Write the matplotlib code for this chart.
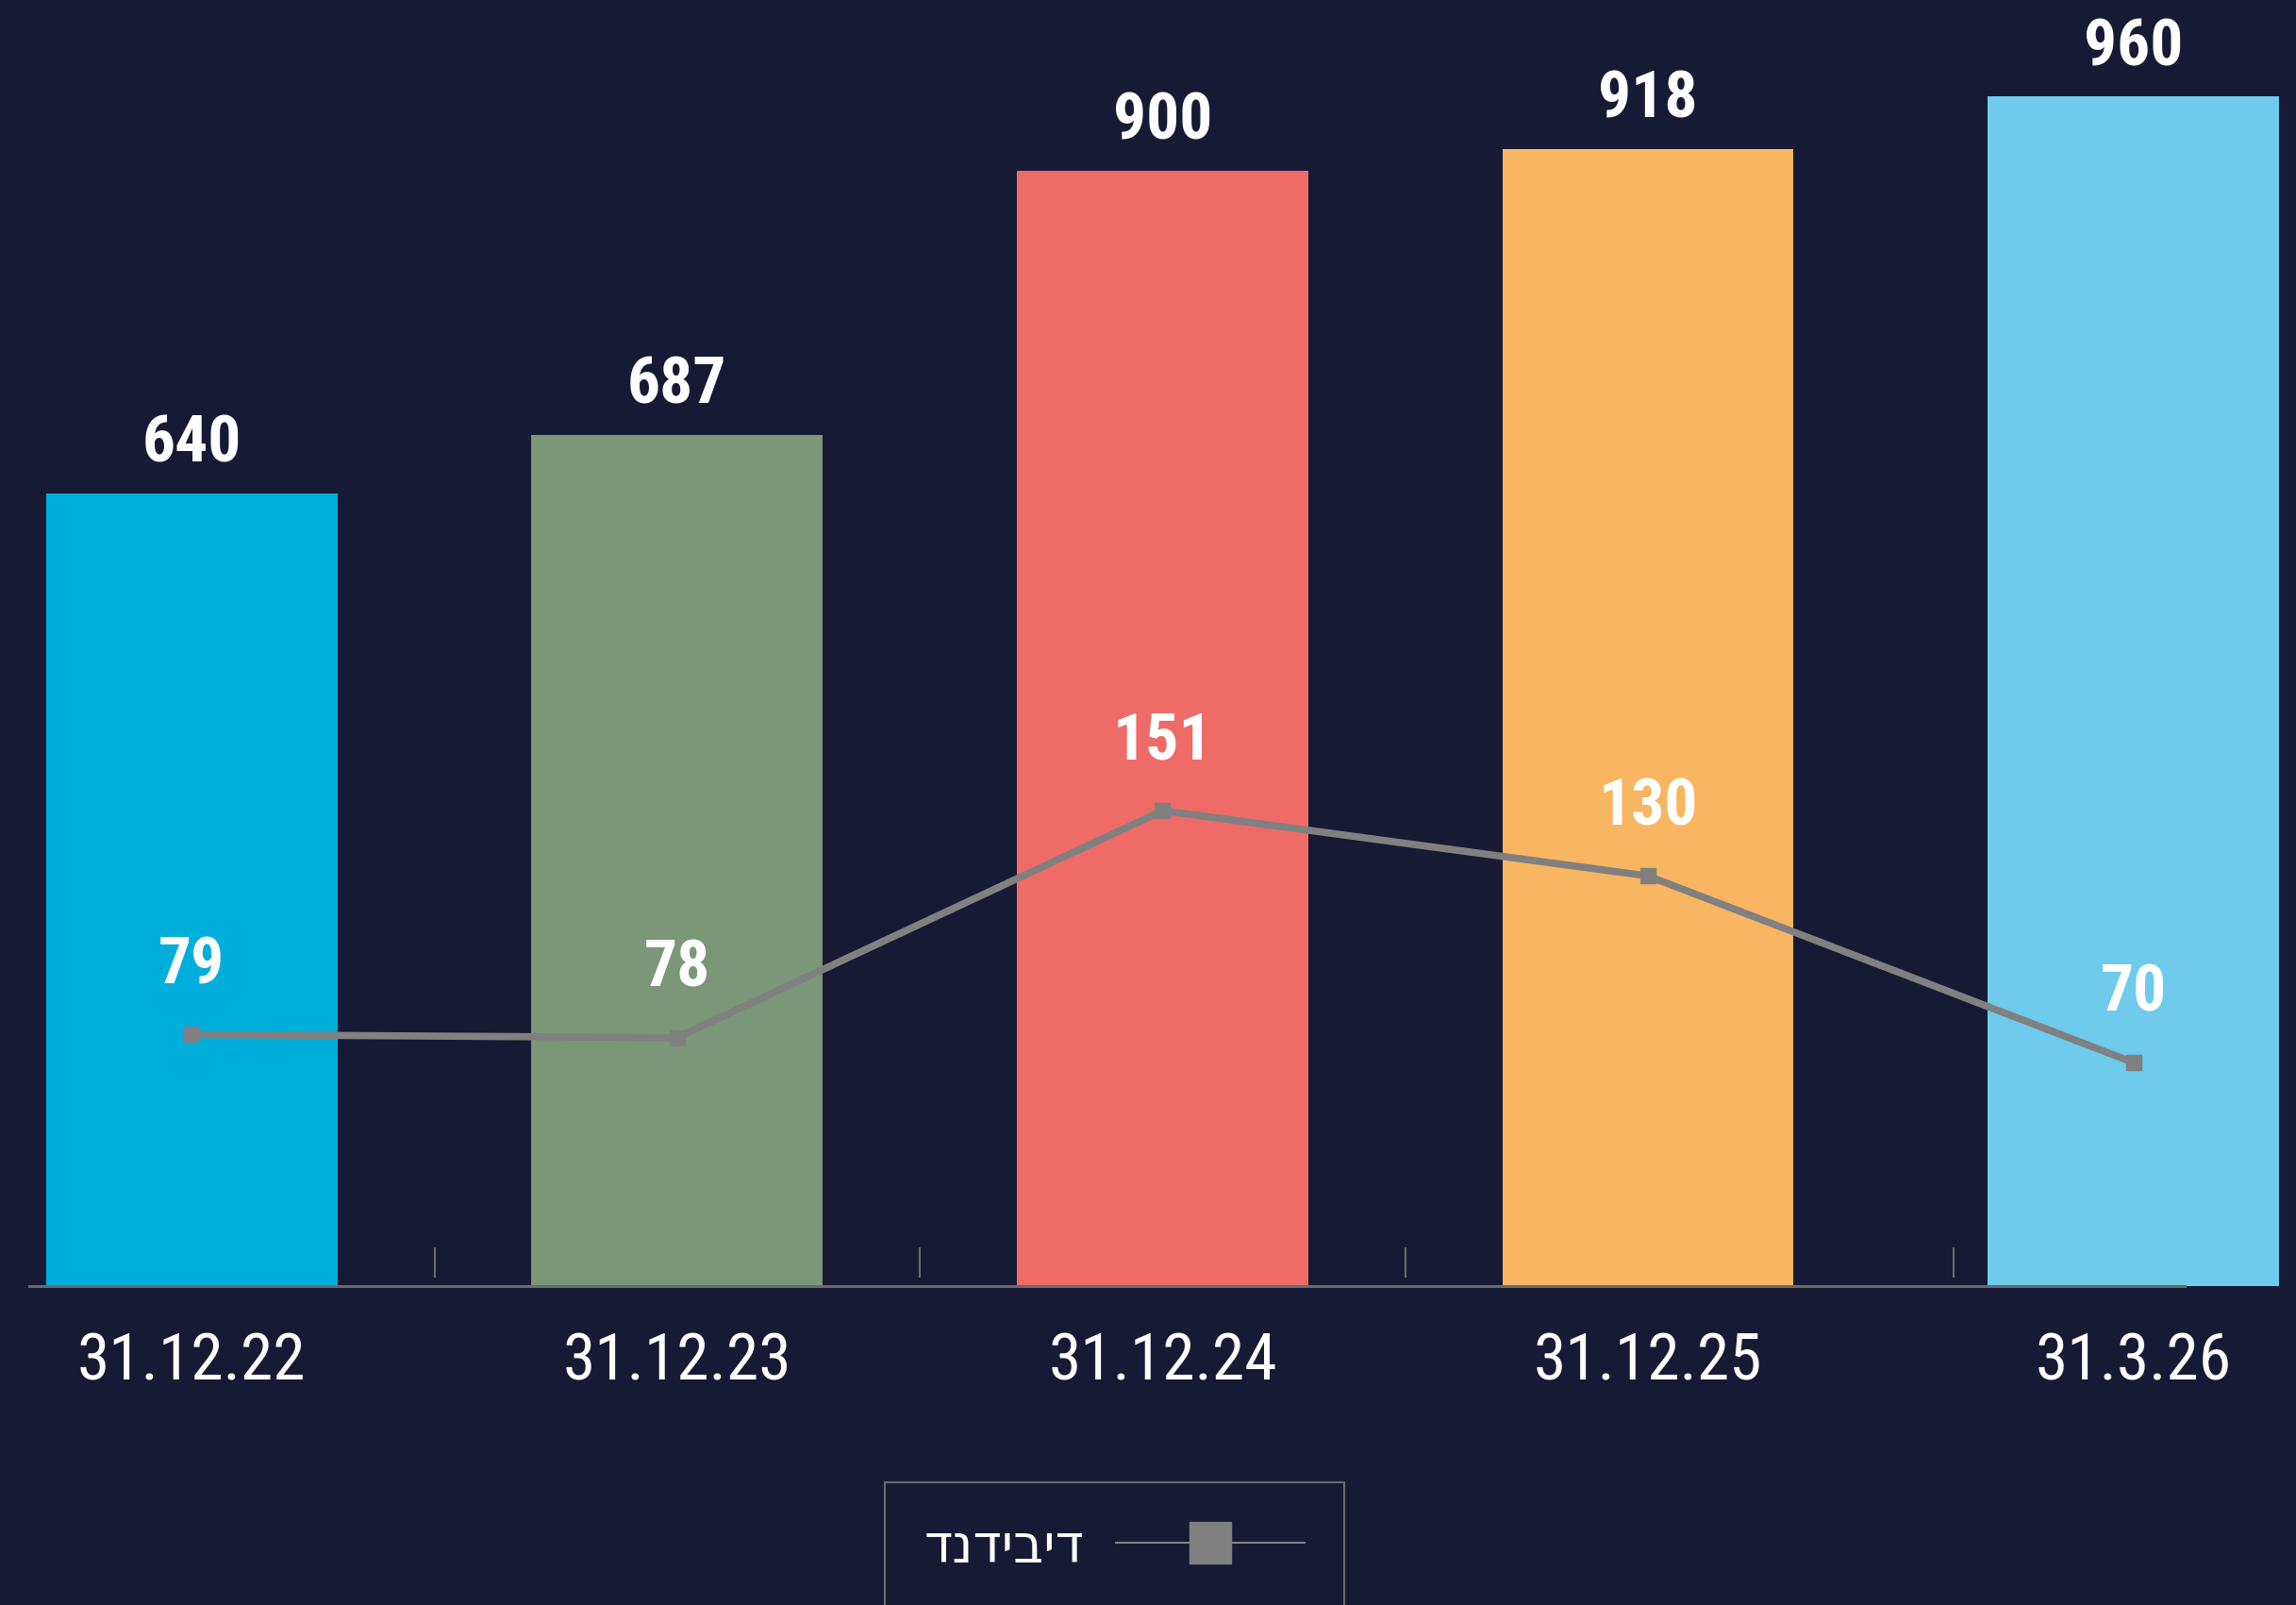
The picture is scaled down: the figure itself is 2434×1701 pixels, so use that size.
import matplotlib.pyplot as plt
from matplotlib.lines import Line2D

# Data
dates = ['31.12.22', '31.12.23', '31.12.24', '31.12.25', '31.3.26']
totals = [640, 687, 900, 918, 960]
dividend = [79, 78, 151, 130, 70]
bar_colors = ['#00aedb', '#7a9778', '#ef6b68', '#f8b662', '#6ecbeb']
legend_label = 'דיבידנד'
separators = [0.5, 1.5, 2.5, 3.63]

bg = '#171a34'
line_grey = '#808080'
axis_grey = '#6b6b6b'

plt.rcParams['font.family'] = ['Roboto Condensed', 'DejaVu Sans']

fig = plt.figure(figsize=(24.34, 17.01), dpi=100, facecolor=bg)
ax = fig.add_axes([0, 0.1987, 1, 0.8013])
ax.set_facecolor(bg)

x = list(range(len(dates)))
ax.bar(x, totals, width=0.6, color=bar_colors, zorder=2)
ax.set_xlim(-0.395, 4.335)
ax.set_ylim(0, 1038)
for s in ax.spines.values():
    s.set_visible(False)
ax.set_yticks([])
ax.set_xticks(x, dates)
ax.tick_params(axis='x', length=0, pad=34, labelsize=50, labelcolor='white')

# baseline and small separators between groups
ax.plot([-0.335, 4.105], [0, 0], color=axis_grey, lw=2.2, zorder=3, clip_on=False)
ax.vlines(separators, 7, 31, color=axis_grey, lw=1.5, zorder=3)

for xi, v in zip(x, totals):
    ax.annotate(str(v), (xi, v), xytext=(0, 24), textcoords='offset points',
                ha='center', va='baseline', fontsize=50, fontweight='bold', color='white')

# dividend line on its own scale
ax2 = ax.twinx()
ax2.set_ylim(-1.9, 411.7)
ax2.axis('off')
ax2.plot(x, dividend, color=line_grey, lw=5.5, marker='s', markersize=12, zorder=4)
for xi, v in zip(x, dividend):
    ax2.annotate(str(v), (xi, v), xytext=(0, 39), textcoords='offset points',
                 ha='center', va='baseline', fontsize=50, fontweight='bold', color='white')

# legend (hebrew drawn right-to-left)
handle = Line2D([], [], color=line_grey, lw=1.5, marker='s', markersize=31)
leg = fig.legend([handle], [legend_label[::-1]], loc='upper center',
                 bbox_to_anchor=(0.4854, 0.0764), borderaxespad=0,
                 markerfirst=False, fontsize=40, labelcolor='white',
                 frameon=True, fancybox=False, facecolor=bg, framealpha=1,
                 edgecolor=axis_grey, handlelength=3.6, handletextpad=0.6,
                 borderpad=0.75)
leg.get_frame().set_linewidth(1.5)

fig.savefig('out.png', dpi=100, facecolor=bg)
